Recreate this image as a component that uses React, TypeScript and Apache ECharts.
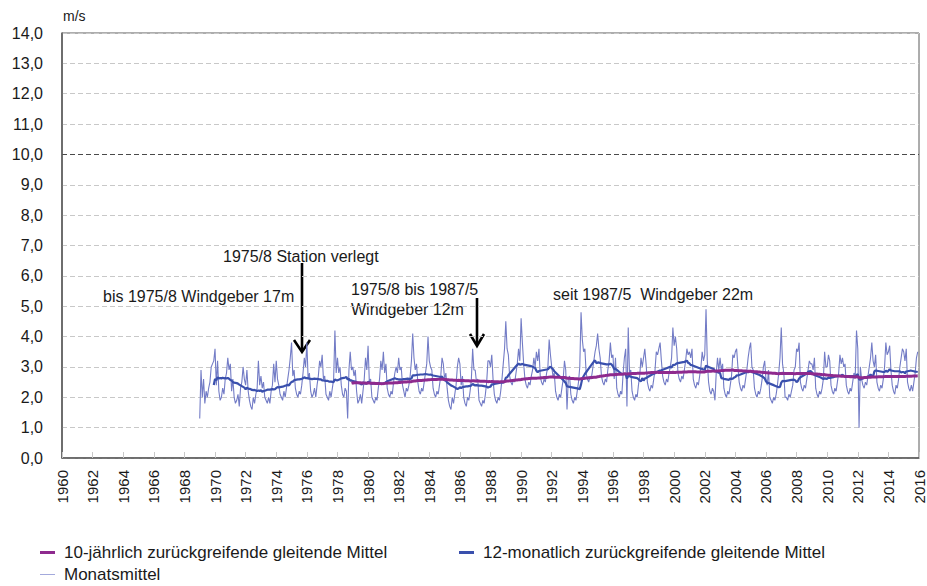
import React, { useEffect, useRef } from "react";
import * as echarts from "echarts";

// ---- data ----
const startYear = 1969;

const monthly1969to1978: number[][] = [
  [1.3, 2.9, 2.0, 2.6, 1.8, 2.2, 2.0, 2.3, 2.5, 3.0, 3.1, 3.2],
  [3.6, 2.4, 3.2, 2.2, 1.9, 2.0, 2.3, 2.1, 2.6, 2.8, 3.3, 2.9],
  [3.1, 2.2, 2.6, 2.0, 1.8, 1.9, 2.1, 1.7, 2.3, 2.5, 3.0, 2.6],
  [2.4, 2.9, 2.2, 1.9, 1.7, 1.6, 2.0, 1.8, 2.1, 2.3, 3.2, 2.4],
  [2.7, 2.3, 2.5, 2.0, 1.9, 1.8, 2.0, 1.8, 2.2, 2.4, 3.1, 2.5],
  [3.2, 2.6, 2.4, 2.1, 2.0, 1.9, 2.2, 2.0, 2.3, 2.6, 2.9, 3.3],
  [3.8, 2.7, 2.9, 2.3, 2.1, 2.0, 2.2, 2.1, 2.4, 2.8, 3.3, 3.0],
  [3.8, 2.6, 2.8, 2.2, 2.0, 2.1, 2.3, 2.0, 2.4, 2.7, 3.2, 3.0],
  [3.4, 2.6, 2.7, 2.1, 2.0, 1.9, 2.2, 2.0, 2.3, 2.6, 4.2, 2.8],
  [3.3, 2.8, 3.0, 2.4, 2.1, 2.0, 2.3, 2.2, 1.3, 2.9, 3.5, 2.9],
];
const monthly1979to1988: number[][] = [
  [3.0, 2.7, 2.9, 2.2, 1.8, 1.9, 2.1, 1.8, 2.2, 2.6, 3.3, 2.9],
  [3.7, 2.5, 2.6, 2.0, 1.9, 1.8, 2.0, 1.9, 2.3, 2.6, 3.2, 2.9],
  [3.5, 2.8, 3.1, 2.3, 2.1, 2.0, 2.2, 2.1, 2.5, 2.8, 3.0, 2.8],
  [3.3, 2.9, 3.0, 2.4, 2.2, 2.0, 2.3, 2.2, 2.4, 2.7, 3.2, 4.1],
  [3.3, 2.9, 3.1, 2.5, 2.2, 2.1, 2.3, 2.2, 2.5, 2.8, 3.1, 4.0],
  [3.2, 3.0, 2.9, 2.3, 2.1, 2.0, 2.2, 2.1, 2.4, 2.7, 3.3, 3.1],
  [2.6, 2.8, 2.3, 1.9, 1.7, 1.6, 2.0, 1.8, 2.1, 2.4, 3.0, 3.3],
  [3.1, 2.4, 2.7, 2.0, 1.8, 1.7, 2.0, 1.9, 2.2, 2.6, 3.6, 2.9],
  [2.9, 2.5, 2.6, 1.9, 1.8, 1.7, 1.9, 1.8, 2.1, 2.5, 3.2, 3.2],
  [3.0, 3.4, 2.6, 2.1, 1.9, 1.8, 2.0, 1.9, 2.2, 2.6, 3.1, 3.6],
];
const monthly1989to1998: number[][] = [
  [4.5, 3.6, 3.4, 2.7, 2.5, 2.4, 2.6, 2.5, 2.8, 3.1, 3.6, 3.2],
  [4.6, 3.8, 3.1, 2.6, 2.4, 2.3, 2.5, 2.4, 2.7, 2.9, 3.3, 3.0],
  [3.5, 3.2, 3.6, 2.7, 2.5, 2.4, 2.6, 2.5, 2.8, 3.0, 3.9, 3.4],
  [3.0, 2.7, 2.8, 2.2, 2.0, 1.9, 2.1, 2.0, 2.3, 2.6, 3.2, 2.9],
  [1.6, 2.6, 2.7, 2.1, 1.9, 1.8, 2.0, 1.9, 2.2, 2.5, 3.0, 4.8],
  [3.9, 3.5, 3.6, 2.8, 2.6, 2.5, 2.7, 2.6, 2.9, 3.2, 3.5, 3.7],
  [4.1, 3.6, 3.3, 2.7, 2.5, 2.4, 2.6, 2.5, 2.9, 3.2, 3.8, 3.3],
  [3.4, 2.6, 3.3, 2.3, 2.1, 2.0, 2.2, 2.1, 2.8, 3.3, 3.6, 1.7],
  [4.3, 2.8, 2.9, 2.2, 2.0, 1.9, 2.1, 2.0, 2.4, 2.7, 3.3, 3.0],
  [3.3, 3.6, 3.1, 2.5, 2.3, 2.2, 2.4, 2.3, 2.6, 2.9, 3.5, 3.4],
];
const monthly1999to2008: number[][] = [
  [3.6, 3.8, 3.2, 2.7, 2.5, 2.4, 2.6, 2.5, 2.8, 3.0, 3.3, 4.3],
  [3.7, 4.0, 3.6, 2.8, 2.6, 2.5, 2.7, 2.6, 2.9, 3.2, 3.6, 3.4],
  [3.5, 3.3, 3.6, 2.6, 2.4, 2.3, 2.5, 2.4, 2.7, 3.0, 3.5, 3.2],
  [3.4, 4.9, 3.2, 2.5, 2.2, 2.1, 2.3, 2.2, 1.9, 2.8, 3.3, 2.9],
  [3.3, 2.9, 3.1, 2.3, 2.1, 2.0, 2.2, 2.1, 2.4, 2.7, 3.4, 3.3],
  [3.5, 3.6, 3.0, 2.5, 2.3, 2.2, 2.4, 2.3, 2.6, 2.9, 3.3, 3.6],
  [3.8, 3.0, 2.9, 2.3, 2.1, 2.0, 2.2, 2.1, 2.3, 2.6, 3.0, 3.2],
  [2.6, 2.4, 2.9, 2.0, 1.9, 1.8, 2.0, 1.9, 2.1, 2.4, 2.8, 3.3],
  [4.3, 3.1, 2.8, 2.0, 2.0, 1.9, 2.1, 2.0, 2.2, 2.4, 2.9, 3.0],
  [3.6, 3.5, 3.8, 2.5, 2.3, 2.2, 2.4, 2.3, 2.6, 2.9, 3.2, 3.1],
];
const monthly2009to2015: number[][] = [
  [3.1, 2.9, 3.3, 2.3, 2.1, 2.0, 2.2, 2.1, 2.3, 2.6, 3.5, 3.0],
  [3.0, 3.4, 3.2, 2.4, 2.2, 2.1, 2.3, 2.2, 2.5, 2.8, 3.4, 3.1],
  [3.3, 3.0, 3.1, 2.4, 2.2, 2.1, 2.3, 2.2, 2.5, 2.8, 2.7, 4.2],
  [3.6, 1.0, 3.0, 2.6, 2.4, 2.3, 2.5, 2.4, 2.7, 3.0, 3.3, 3.8],
  [3.2, 3.0, 3.4, 2.5, 2.3, 2.2, 2.4, 2.3, 2.6, 3.0, 3.8, 3.4],
  [3.5, 3.7, 2.9, 2.4, 2.2, 2.1, 2.4, 2.3, 2.6, 3.0, 3.3, 3.6],
  [3.5, 3.2, 3.6, 2.5, 2.3, 2.2, 2.4, 2.2, 2.5, 2.8, 3.3, 3.5],
];

const seriesNames = [
  "10-jährlich zurückgreifende gleitende Mittel",
  "12-monatlich zurückgreifende gleitende Mittel",
  "Monatsmittel",
];

const annotationTexts = [
  "1975/8 Station verlegt",
  "bis 1975/8 Windgeber 17m",
  "1975/8 bis 1987/5",
  "Windgeber 12m",
  "seit 1987/5  Windgeber 22m",
];

const xMin = 1960;
const xMax = 2016;
const xInterval = 2;
const yMin = 0;
const yMax = 14;
const yInterval = 1;
const yUnit = "m/s";

// ---- derived ----
const monthlyValues: number[] = [
  ...monthly1969to1978,
  ...monthly1979to1988,
  ...monthly1989to1998,
  ...monthly1999to2008,
  ...monthly2009to2015,
].flat();

const monthX = (i: number) => startYear + i / 12;

function trailingMean(vals: number[], n: number): number[][] {
  const out: number[][] = [];
  for (let i = n - 1; i < vals.length; i++) {
    let s = 0;
    for (let k = i - n + 1; k <= i; k++) s += vals[k];
    out.push([monthX(i), s / n]);
  }
  return out;
}

const monthlyData = monthlyValues.map((v, i) => [monthX(i), v]);
const ma12Data = trailingMean(monthlyValues, 12);
const ma120Data = trailingMean(monthlyValues, 120);

const FONT = "'Liberation Sans', Arial, Helvetica, sans-serif";

export default function App() {
  const ref = useRef<HTMLDivElement>(null);
  useEffect(() => {
    if (!ref.current) return;
    const chart = echarts.init(ref.current, undefined, { renderer: "svg" });
    const gridColors: string[] = [];
    for (let v = yMin; v <= yMax; v += yInterval) gridColors.push(v === 10 ? "#4a4a4a" : "#c8c8c8");

    const arrow = (x: number, y1: number, y2: number, hw: number, hh: number) => [
      { type: "line", shape: { x1: x, y1, x2: x, y2: y2 - 1 }, style: { stroke: "#000", lineWidth: 2.6 } },
      {
        type: "polyline",
        shape: { points: [[x - hw, y2 - hh], [x, y2], [x + hw, y2 - hh]] },
        style: { stroke: "#000", lineWidth: 2.6, fill: null },
      },
    ];
    const txt = (text: string, x: number, y: number) => ({
      type: "text",
      x,
      y,
      style: { text, fill: "#1a1a1a", font: `16px ${FONT}`, textVerticalAlign: "middle", textAlign: "left" },
    });

    const legendText = { fontSize: 17, color: "#1a1a1a", padding: [0, 0, 0, 4], fontFamily: FONT };

    chart.setOption({
      animation: false,
      backgroundColor: "#fff",
      textStyle: { fontFamily: FONT },
      grid: { left: 62, right: 8, top: 33, bottom: 128, show: true, borderColor: "#5a5a5a", borderWidth: 1 },
      xAxis: {
        type: "value",
        min: xMin,
        max: xMax,
        interval: xInterval,
        axisLine: { show: true, lineStyle: { color: "#5a5a5a", width: 1.5 } },
        axisTick: { show: true, inside: true, length: 6, lineStyle: { color: "#c8c8c8" } },
        splitLine: { show: false },
        axisLabel: { rotate: 90, fontSize: 15, color: "#1a1a1a", margin: 12, fontFamily: FONT, formatter: (v: number) => String(v) },
      },
      yAxis: {
        type: "value",
        min: yMin,
        max: yMax,
        interval: yInterval,
        name: yUnit,
        nameLocation: "end",
        nameGap: 10,
        nameTextStyle: { fontSize: 14, color: "#1a1a1a", align: "left", padding: [0, 0, 0, 1], fontFamily: FONT },
        axisLine: { show: true, lineStyle: { color: "#5a5a5a", width: 1.5 } },
        axisTick: { show: false },
        splitLine: { show: true, lineStyle: { color: gridColors, type: [5, 3], width: 1 } },
        axisLabel: {
          fontSize: 16,
          color: "#1a1a1a",
          margin: 19,
          fontFamily: FONT,
          formatter: (v: number) => v.toFixed(1).replace(".", ","),
        },
      },
      legend: [
        { data: [seriesNames[0]], left: 35, top: 539, icon: "rect", itemWidth: 15, itemHeight: 3, textStyle: legendText },
        { data: [seriesNames[1]], left: 454, top: 539, icon: "rect", itemWidth: 15, itemHeight: 3, textStyle: legendText },
        { data: [seriesNames[2]], left: 35, top: 561, icon: "rect", itemWidth: 15, itemHeight: 1, textStyle: legendText },
      ],
      series: [
        {
          name: seriesNames[2],
          type: "line",
          data: monthlyData,
          showSymbol: false,
          color: "#a3a9dc",
          lineStyle: { width: 1.1, color: "#737cc6" },
          z: 2,
        },
        {
          name: seriesNames[1],
          type: "line",
          data: ma12Data,
          showSymbol: false,
          color: "#3a50ad",
          lineStyle: { width: 2.2, color: "#3a50ad" },
          z: 3,
        },
        {
          name: seriesNames[0],
          type: "line",
          data: ma120Data,
          showSymbol: false,
          color: "#8e2a8e",
          lineStyle: { width: 3, color: "#8e2a8e" },
          z: 4,
        },
      ],
      graphic: [
        txt(annotationTexts[0], 223, 256),
        txt(annotationTexts[1], 103, 296),
        txt(annotationTexts[2], 351, 289),
        txt(annotationTexts[3], 351, 309),
        txt(annotationTexts[4], 553, 294),
        ...arrow(302, 263, 352, 8, 12),
        ...arrow(477, 298, 346, 7, 12),
      ],
    });
    return () => chart.dispose();
  }, []);
  return <div ref={ref} style={{ position: "fixed", left: 0, top: 0, width: 927, height: 586 }} />;
}
